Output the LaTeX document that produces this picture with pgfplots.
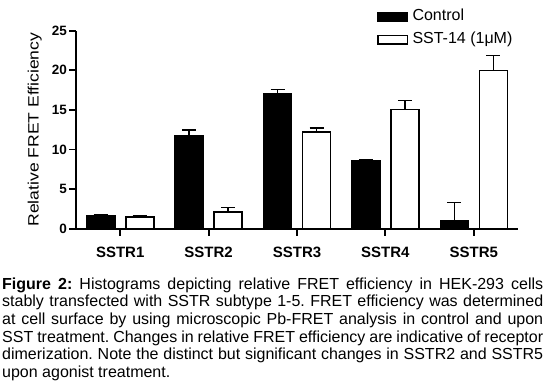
\documentclass[border=0pt]{standalone}
\usepackage{pgfplots}
\pgfplotsset{compat=1.18}
\usepackage{fontspec}
\setmainfont{Liberation Sans}
\begin{document}
\begin{tikzpicture}
\useasboundingbox (0,0) rectangle (545pt,386pt);
\begin{axis}[
  at={(76pt,157.3pt)}, anchor=south west,
  scale only axis, width=442pt, height=198pt,
  xmin=-0.5, xmax=4.5, ymin=0, ymax=25,
  axis x line=bottom, axis y line=left,
  axis line style={line width=1.9pt,-},
  ybar=11pt, bar width=28pt,
  xtick={0,1,2,3,4}, xticklabels={SSTR1,SSTR2,SSTR3,SSTR4,SSTR5},
  ytick={0,5,10,15,20,25},
  tick align=outside,
  major tick length=7pt,
  tick style={line width=1.9pt, black},
  /pgf/number format/assume math mode=true,
  yticklabel style={font=\fontsize{13.5}{14}\selectfont\bfseries, inner sep=2pt},
  xticklabel style={font=\fontsize{15}{16}\selectfont\bfseries, yshift=-8pt},
  ylabel={\scalebox{1.17}[1]{Relative FRET Efficiency}},
  every axis y label/.style={at={(axis description cs:-0.0933,0.5)}, rotate=90, anchor=center, font=\fontsize{15}{16}\selectfont},
  legend style={draw=none, fill=none, at={(axis description cs:0.681,1.11)}, anchor=north west,
    font=\fontsize{16}{17}\selectfont, inner sep=0pt, row sep=8pt,
    nodes={inner xsep=1.5pt, inner ysep=0pt, text height=11.5pt, text depth=3.5pt}},
  legend cell align=left,
  legend image code/.code={\draw[#1, line width=1.6pt] (0.8pt,-4.3pt) rectangle (30.2pt,4.3pt); \path (33pt,0pt);},
  error bars/error bar style={line width=1.6pt, black},
  error bars/error mark options={line width=1.6pt, black, mark size=7pt, rotate=90},
]
\addplot[fill=black, draw=black, line width=1.6pt,
  error bars/.cd, y dir=plus, y explicit]
  coordinates {(0,1.6) +- (0,0.12) (1,11.7) +- (0,0.75) (2,17.0) +- (0,0.6) (3,8.63) +- (0,0.07) (4,1.0) +- (0,2.3)};
\addplot[fill=white, draw=black, line width=1.6pt,
  error bars/.cd, y dir=plus, y explicit]
  coordinates {(0,1.5) +- (0,0.12) (1,2.1) +- (0,0.6) (2,12.2) +- (0,0.55) (3,15.07) +- (0,1.13) (4,19.95) +- (0,1.9)};
\legend{Control, SST-14 (1μM)}
\end{axis}
\node[anchor=base west, inner sep=0pt] at (2pt,97pt) {\parbox[t]{541pt}{\fontsize{16}{17.7}\selectfont\frenchspacing
\textbf{Figure 2:} Histograms depicting relative FRET efficiency in HEK-293 cells\linebreak
stably transfected with SSTR subtype 1-5. FRET efficiency was determined\linebreak
at cell surface by using microscopic Pb-FRET analysis in control and upon\linebreak
SST treatment. Changes in relative FRET efficiency are indicative of receptor\linebreak
dimerization. Note the distinct but significant changes in SSTR2 and SSTR5\linebreak
upon agonist treatment.}};
\end{tikzpicture}
\end{document}
